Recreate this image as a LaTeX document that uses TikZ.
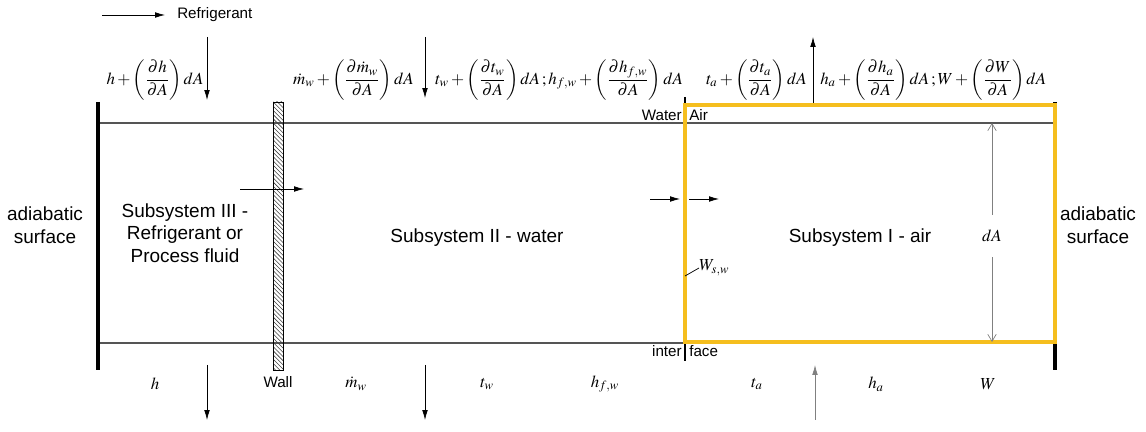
\documentclass[tikz,border=0pt]{standalone}
\usepackage{amsmath, amssymb}
\usepackage{mathptmx}
\usepackage{fontspec}
\setmainfont{Liberation Sans}
\usepackage{xcolor}
\usetikzlibrary{arrows.meta, positioning, patterns}

\definecolor{airyellow}{HTML}{F5BE1E}
\definecolor{linegray}{HTML}{555555}

\tikzset{
  flux/.style={-{Latex[length=7pt, width=4pt]}, line width=0.5pt},
  dimarrow/.style={-{Straight Barb[length=5pt, width=6pt]}, gray, line width=0.5pt},
  band/.style={linegray, line width=1pt},
  adiab/.style={black, line width=2.5pt},
  lbl/.style={font=\fontsize{13.5}{16}\selectfont, align=center, inner sep=0pt},
  small/.style={font=\fontsize{10.8}{13}\selectfont, inner sep=0pt},
  eq/.style={font=\fontsize{12}{14}\selectfont, inner sep=0pt},
}

\begin{document}
\begin{tikzpicture}[x=0.025cm, y=-0.025cm]
    \useasboundingbox (0,0) rectangle (1146,432);

    % Control volume boundaries
    \draw[band] (98,123) -- (1055,123);
    \draw[band] (98,343) -- (1055,343);
    \draw[adiab] (98,102) -- (98,370);
    \draw[adiab] (1055,102) -- (1055,370);

    % Wall
    \draw[pattern=north west lines, pattern color=black!75] (273,102) rectangle (283,370);

    % Water/air interface ticks
    \draw[line width=1.3pt] (685,97) -- (685,105);
    \draw[line width=1.3pt] (685,342) -- (685,361);

    % Subsystem I (air) box
    \draw[airyellow, line width=2.2pt] (685,105) rectangle (1055,342);

    % Region labels
    \node[lbl] (adiabL) at (45,225) {adiabatic\\surface};
    \node[lbl] (adiabR) at (1098,225) {adiabatic\\surface};
    \node[lbl] (sub3) at (185,233) {Subsystem III -\\Refrigerant or\\Process fluid};
    \node[lbl] (sub2) at (477,238) {Subsystem II - water};
    \node[lbl] (sub1) at (860,238) {Subsystem I - air};
    \node[small, anchor=east] (water) at (682,115) {Water};
    \node[small, anchor=west] (air) at (689,115) {Air};
    \node[small, anchor=east] (inter) at (682,351) {inter};
    \node[small, anchor=west] (face) at (689,351) {face};
    \node[small] (wall) at (278,382) {Wall};

    % Legend
    \coordinate (legA) at (102,15);
    \coordinate (legB) at (165,15);
    \node[small, anchor=west] (refr) at (177,15) {Refrigerant};
    \draw[flux] (legA) -- (legB);

    % Outlet states (top)
    \node[eq] (hOut) at (155,80) {$h+\left(\dfrac{\partial h}{\partial A}\right)dA$};
    \node[eq, anchor=east] (mOut) at (414,80) {$\dot m_w+\left(\dfrac{\partial \dot m_w}{\partial A}\right)dA$};
    \node[eq, anchor=west] (twOut) at (435,80) {$t_w+\left(\dfrac{\partial t_w}{\partial A}\right)dA\,;h_{f,w}+\left(\dfrac{\partial h_{f,w}}{\partial A}\right)dA$};
    \node[eq, anchor=east] (taOut) at (807,80) {$t_a+\left(\dfrac{\partial t_a}{\partial A}\right)dA$};
    \node[eq, anchor=west] (haOut) at (820,80) {$h_a+\left(\dfrac{\partial h_a}{\partial A}\right)dA\,;W+\left(\dfrac{\partial W}{\partial A}\right)dA$};

    % Inlet states (bottom)
    \node[eq] (hIn) at (155,384) {$h$};
    \node[eq] (mIn) at (356,384) {$\dot m_w$};
    \node[eq] (twIn) at (487,384) {$t_w$};
    \node[eq] (hfIn) at (605,384) {$h_{f,w}$};
    \node[eq] (taIn) at (757,384) {$t_a$};
    \node[eq] (haIn) at (876,384) {$h_a$};
    \node[eq] (wIn) at (988,384) {$W$};

    % Stream arrows
    \foreach \n/\x/\ya/\yb in {rTop/207/37/100, wTop/425/37/98, aTop/813/103/37,
                               rBot/207/365/420, wBot/425/365/420} {
        \coordinate (\n1) at (\x,\ya);
        \coordinate (\n2) at (\x,\yb);
        \draw[flux] (\n1) -- (\n2);
    }
    \coordinate (aBot1) at (815,420);
    \coordinate (aBot2) at (815,365);
    \draw[flux, gray] (aBot1) -- (aBot2);

    % Heat and mass transfer arrows
    \coordinate (q1) at (240,189);
    \coordinate (q2) at (304,189);
    \draw[flux] (q1) -- (q2);
    \coordinate (m1) at (650,199);
    \coordinate (m2) at (680,199);
    \coordinate (m3) at (689,199);
    \coordinate (m4) at (719,199);
    \draw[flux] (m1) -- (m2);
    \draw[flux] (m3) -- (m4);

    % Saturated humidity at interface
    \node[eq, anchor=west] (wsw) at (699,268) {$W_{s,w}$};
    \coordinate (wswPt) at (685,276);
    \draw[line width=0.5pt] (wsw.west) -- (wswPt);

    % Element height dA
    \node[eq, minimum height=1.05cm] (dA) at (992,236) {$dA$};
    \coordinate (dAt) at (992,123);
    \coordinate (dAb) at (992,342);
    \draw[dimarrow] (dA.north) -- (dAt);
    \draw[dimarrow] (dA.south) -- (dAb);
\end{tikzpicture}
\end{document}
